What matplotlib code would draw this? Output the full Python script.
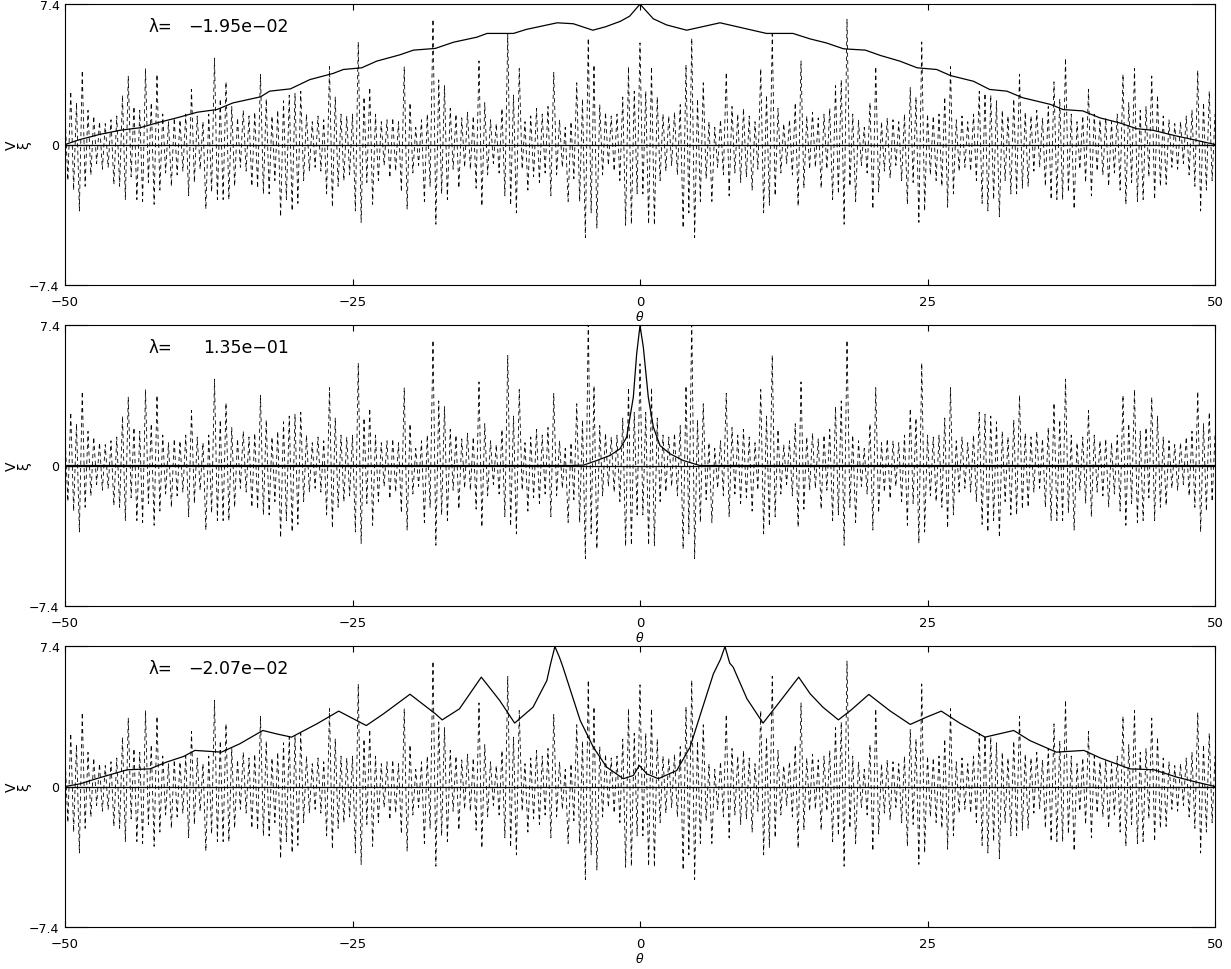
import numpy as np
import matplotlib
matplotlib.use("Agg")
import matplotlib.pyplot as plt

plt.rcParams['font.family'] = ['DejaVu Sans']

# potential V(theta) for theta = 0, 0.25, ..., 50 (even in theta)
v_half = [
    5.35, -2.6, 2.8, -4.2, 4.1, -4.25, 2.5, -1.9, 1.6, -1.4,
    1.5, -1.1, 1.7, -1.6, 2.1, -4.4, 4.2, -3.6, 5.6, -4.9,
    2.4, -3.0, 3.25, -1.8, 1.2, -3.0, 0.9, -1.2, 1.3, -1.6,
    3.8, -2.7, 2.0, -1.5, 1.6, -2.0, 1.9, -1.7, 1.5, -2.4,
    1.2, -1.3, 4.0, -3.6, 2.6, -3.2, 5.8, -2.7, 1.9, -1.5,
    1.1, -1.0, 1.3, -1.6, 2.2, -3.25, 4.4, -2.3, 1.5, -1.3,
    1.7, -1.2, 1.4, -2.3, 1.6, -1.3, 1.9, -2.9, 3.1, -2.6,
    3.4, -4.2, 6.6, -2.2, 1.6, -3.0, 1.3, -1.1, 0.9, -1.5,
    2.2, -3.4, 4.1, -2.5, 1.2, -1.4, 1.4, -1.75, 1.3, -1.1,
    1.2, -1.9, 1.6, -3.15, 3.0, -2.0, 2.5, -4.1, 5.4, -3.5,
    1.6, -1.6, 1.5, -1.9, 1.6, -2.2, 2.5, -3.3, 4.1, -2.6,
    1.3, -1.4, 1.5, -1.2, 1.2, -1.4, 1.6, -1.9, 2.8, -3.1,
    2.7, -3.5, 2.6, -2.9, 2.3, -3.8, 1.8, -1.9, 1.5, -2.6,
    2.4, -2.6, 3.7, -2.3, 1.7, -2.2, 1.5, -1.4, 1.8, -1.2,
    1.4, -2.2, 2.0, -2.9, 3.3, -2.9, 2.4, -2.9, 4.55, -2.5,
    1.6, -3.4, 1.2, -1.3, 1.5, -2.0, 2.9, -2.7, 1.6, -1.4,
    1.3, -1.6, 1.4, -2.2, 1.2, -1.5, 1.6, -2.4, 3.7, -3.15,
    2.2, -2.0, 4.0, -3.0, 1.8, -2.9, 2.0, -1.7, 3.6, -2.9,
    2.6, -2.2, 1.5, -2.1, 1.3, -1.2, 1.1, -1.3, 1.2, -1.0,
    1.5, -1.6, 1.8, -2.2, 3.9, -3.5, 2.2, -2.4, 2.8, -1.9,
    1.6,
]
# middle panel: the spikes near theta = +-4.4 run off the top
v_mid_peaks = {18: 7.8}

# eigenfunctions xi(theta)
th1 = [-50, -48.7, -47.0, -45.2, -43.5, -42.0, -40.3, -38.5, -36.8, -35.4,
       -33.0, -32.2, -30.4, -28.7, -26.7, -25.8, -24.2, -22.9, -20.9, -19.7,
       -17.8, -16.2, -14.2, -13.3, -11.0, -9.9, -7.2, -5.8, -4.1, -3.0,
       -1.7, -0.9, 0, 1.16, 2.3, 4.06, 6.96, 11.0, 13.3, 14.8,
       16.2, 17.7, 19.6, 20.9, 22.6, 24.1, 25.8, 27.0, 29.0, 30.4,
       31.9, 33.3, 35.7, 36.8, 38.5, 40.0, 41.7, 43.2, 44.6, 46.7,
       48.1, 50]
xi1 = [0, 0.26, 0.53, 0.75, 0.88, 1.14, 1.40, 1.70, 1.84, 2.19,
       2.51, 2.81, 2.93, 3.42, 3.74, 3.95, 4.04, 4.39, 4.72, 4.97,
       5.06, 5.39, 5.65, 5.85, 5.85, 6.06, 6.41, 6.36, 6.02, 6.2,
       6.49, 6.76, 7.39, 6.62, 6.3, 6.02, 6.41, 5.85, 5.85, 5.56,
       5.35, 5.04, 4.97, 4.69, 4.39, 4.04, 3.95, 3.63, 3.33, 2.90,
       2.81, 2.46, 2.11, 1.84, 1.77, 1.40, 1.14, 0.83, 0.75, 0.44,
       0.26, 0]

th2 = [-50, -6.1, -4.9, -3.77, -2.6, -1.74, -1.16, -0.58, -0.29, 0,
       0.29, 0.72, 1.16, 1.74, 2.6, 3.77, 5.2, 50]
xi2 = [0, 0, 0.02, 0.26, 0.53, 0.88, 1.49, 3.6, 5.88, 7.37,
       6.23, 3.6, 2.02, 1.05, 0.62, 0.26, 0, 0]

th3 = [-50, -48.7, -47.0, -44.6, -42.6, -41.2, -39.7, -38.7, -36.4, -34.8,
       -32.8, -31.6, -30.3, -28.1, -26.2, -23.8, -22.3, -20.0, -17.8, -17.2,
       -15.7, -13.8, -12.2, -10.9, -9.3, -8.1, -7.8, -7.4, -7.0, -6.7,
       -5.2, -4.06, -2.9, -1.45, -0.58, -0.06, 0.58, 1.59, 3.19, 4.35,
       5.36, 6.38, 7.0, 7.39, 7.8, 8.1, 9.3, 10.7, 11.9, 13.8,
       14.8, 15.9, 17.25, 18.3, 19.9, 21.7, 23.5, 24.9, 26.2, 27.8,
       30.0, 32.5, 33.9, 36.2, 38.6, 40.0, 42.6, 44.7, 46.7, 48.4,
       50]
xi3 = [0, 0.14, 0.46, 0.88, 0.93, 1.28, 1.58, 1.90, 1.81, 2.25,
       2.95, 2.77, 2.60, 3.30, 3.97, 3.21, 3.83, 4.86, 3.83, 3.51,
       4.09, 5.76, 4.53, 3.34, 4.18, 5.58, 6.4, 7.37, 6.8, 6.29,
       3.48, 2.07, 1.02, 0.41, 0.58, 1.11, 0.67, 0.41, 0.84, 2.07,
       4.0, 5.93, 6.7, 7.37, 6.5, 6.29, 4.62, 3.34, 4.27, 5.76,
       4.88, 4.18, 3.51, 4.0, 4.85, 4.0, 3.27, 3.65, 3.97, 3.34,
       2.60, 2.95, 2.42, 1.81, 1.90, 1.51, 0.93, 0.88, 0.49, 0.23,
       0]

lam_text = ['\u22121.95e\u221202', '1.35e\u221201', '\u22122.07e\u221202']
lam_x = [188, 203, 188]
xticks = [-50, -25, 0, 25, 50]
xtick_labels = ['\u221250', '\u221225', '0', '25', '50']
yticks = [-7.4, 0, 7.4]
ytick_labels = ['\u22127.4', '0', '7.4']

W, H = 1231, 970
fig = plt.figure(figsize=(W / 100, H / 100), dpi=100)

theta_half = np.linspace(0, 50, len(v_half))
theta_v = np.concatenate([-theta_half[:0:-1], theta_half])


def full_v(half):
    half = np.asarray(half, dtype=float)
    return np.concatenate([half[:0:-1], half])


vm = list(v_half)
for k, val in v_mid_peaks.items():
    vm[k] = val

panels = [
    (5, th1, xi1, full_v(v_half)),
    (326, th2, xi2, full_v(vm)),
    (647, th3, xi3, full_v(v_half)),
]

left, right = 65, 1215
ph = 281
for i, (top, th, xi, v) in enumerate(panels):
    ax = fig.add_axes([left / W, (H - top - ph) / H, (right - left) / W, ph / H])
    ax.plot(theta_v, v, color='black', lw=0.6, dashes=(5, 4))
    ax.axhline(0, color='black', lw=0.9)
    ax.plot(th, xi, color='black', lw=0.9)
    ax.set_xlim(-50, 50)
    ax.set_ylim(-7.4, 7.4)
    ax.set_xticks(xticks)
    ax.set_xticklabels(xtick_labels)
    ax.set_yticks(yticks)
    ax.set_yticklabels(ytick_labels)
    ax.tick_params(axis='x', direction='in', length=4, width=0.8, top=True,
                   labelsize=9.5, pad=7)
    ax.tick_params(axis='y', direction='in', length=16.5, width=0.8, right=True,
                   labelsize=9, pad=4)
    for s in ax.spines.values():
        s.set_linewidth(0.8)
    ax.set_xlabel(r'$\theta$', fontsize=9, labelpad=1)
    # y titles, side by side
    ax.text((12 - left) / (right - left), 0.5, 'V', transform=ax.transAxes,
            rotation=90, ha='center', va='center', fontsize=10)
    ax.text((24 - left) / (right - left), 0.5, '\u03be', transform=ax.transAxes,
            rotation=90, ha='center', va='center', fontsize=10)
    # eigenvalue label
    ax.text((148 - left) / (right - left), 1 - 22 / ph, '\u03bb=',
            transform=ax.transAxes, ha='left', va='center', fontsize=12)
    ax.text((lam_x[i] - left) / (right - left), 1 - 22 / ph, lam_text[i],
            transform=ax.transAxes, ha='left', va='center', fontsize=12.5)

fig.savefig('out.png', dpi=100)
